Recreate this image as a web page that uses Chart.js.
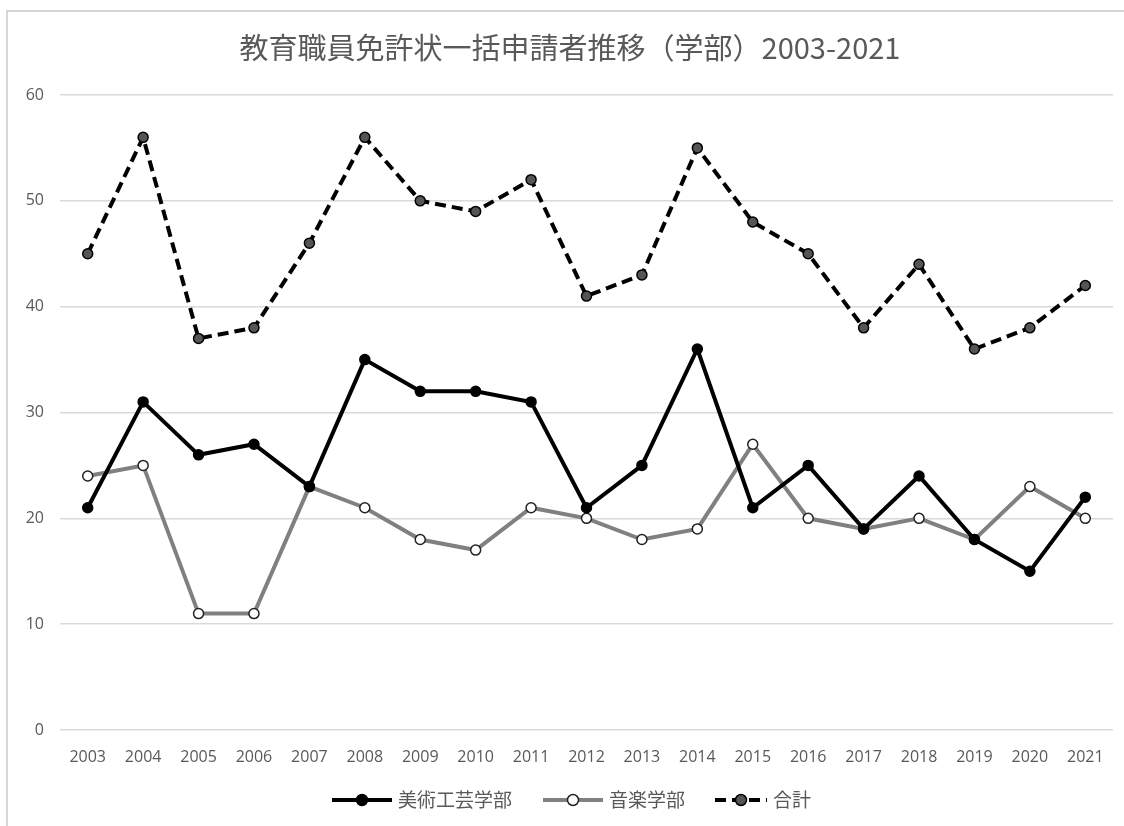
<!DOCTYPE html>
<html>
<head>
<meta charset="utf-8">
<script src="https://cdn.jsdelivr.net/npm/chart.js@4/dist/chart.umd.min.js"></script>
<style>
  html, body { margin: 0; padding: 0; background: #fff; }
  #wrap { position: relative; width: 1124px; height: 826px; overflow: hidden; }
  #frame { position: absolute; left: 6px; top: 10px; width: 1300px; height: 1000px;
           border-left: 2px solid #d6d6d6; border-top: 2px solid #d6d6d6; }
  #chart-area { position: absolute; left: 0; top: 0; }
</style>
</head>
<body>
<div id="wrap">
  <div id="frame"></div>
  <canvas id="chart-area" width="1124" height="826"></canvas>
</div>
<script>
const years = ['2003','2004','2005','2006','2007','2008','2009','2010','2011','2012',
               '2013','2014','2015','2016','2017','2018','2019','2020','2021'];
const bijutsu = [21, 31, 26, 27, 23, 35, 32, 32, 31, 21, 25, 36, 21, 25, 19, 24, 18, 15, 22];
const ongaku  = [24, 25, 11, 11, 23, 21, 18, 17, 21, 20, 18, 19, 27, 20, 19, 20, 18, 23, 20];
const goukei  = [45, 56, 37, 38, 46, 56, 50, 49, 52, 41, 43, 55, 48, 45, 38, 44, 36, 38, 42];
const seriesNames = ['美術工芸学部', '音楽学部', '合計'];
const chartTitle = '教育職員免許状一括申請者推移（学部）2003-2021';

const textGray = '#595959';
const cjkFont = '"Noto Sans CJK JP", "Noto Sans", sans-serif';
const numFont = '"Open Sans", sans-serif';

// title and legend are drawn by hand so the legend can show line + marker
const decorations = {
  id: 'decorations',
  afterDraw(chart) {
    const ctx = chart.ctx;
    ctx.save();
    ctx.fillStyle = textGray;
    ctx.font = '29px ' + cjkFont;
    ctx.textAlign = 'center';
    ctx.textBaseline = 'middle';
    ctx.fillText(chartTitle, 570, 48);

    const entries = [
      { x: 332, len: 60, ds: chart.data.datasets[0] },
      { x: 543, len: 60, ds: chart.data.datasets[1] },
      { x: 715, len: 52, ds: chart.data.datasets[2] }
    ];
    const y = 800;
    ctx.font = '19px ' + cjkFont;
    ctx.textAlign = 'left';
    entries.forEach(function(e) {
      const ds = e.ds;
      ctx.strokeStyle = ds.borderColor;
      ctx.lineWidth = ds.borderWidth;
      ctx.setLineDash(ds.borderDash || []);
      ctx.beginPath();
      ctx.moveTo(e.x, y);
      ctx.lineTo(e.x + e.len, y);
      ctx.stroke();
      ctx.setLineDash([]);
      ctx.beginPath();
      ctx.arc(e.x + e.len / 2, y, ds.pointRadius + 0.5, 0, Math.PI * 2);
      ctx.fillStyle = ds.pointBackgroundColor;
      ctx.fill();
      ctx.lineWidth = ds.pointBorderWidth;
      ctx.strokeStyle = ds.pointBorderColor;
      ctx.stroke();
      ctx.fillStyle = textGray;
      ctx.fillText(ds.label, e.x + e.len + 6, y);
    });
    ctx.restore();
  }
};

window.onload = function() {
  let ctx = document.getElementById('chart-area').getContext('2d');
  new Chart(ctx, {
    type: 'line',
    data: {
      labels: years,
      datasets: [{
        label: seriesNames[0],
        data: bijutsu,
        borderColor: '#000000',
        borderWidth: 4,
        pointRadius: 5,
        pointBackgroundColor: '#000000',
        pointBorderColor: '#000000',
        pointBorderWidth: 1.5
      }, {
        label: seriesNames[1],
        data: ongaku,
        borderColor: '#808080',
        borderWidth: 4,
        pointRadius: 5,
        pointBackgroundColor: '#ffffff',
        pointBorderColor: '#222222',
        pointBorderWidth: 1.5
      }, {
        label: seriesNames[2],
        data: goukei,
        borderColor: '#000000',
        borderWidth: 4,
        borderDash: [11, 6],
        pointRadius: 5,
        pointBackgroundColor: '#555555',
        pointBorderColor: '#000000',
        pointBorderWidth: 1.5
      }]
    },
    options: {
      responsive: false,
      animation: false,
      layout: { padding: { left: 10, right: 11, top: 95, bottom: 56 } },
      plugins: {
        legend: { display: false },
        title: { display: false },
        tooltip: { enabled: false }
      },
      scales: {
        x: {
          offset: true,
          grid: { display: false },
          border: { display: false },
          ticks: { color: textGray, font: { size: 16, family: numFont }, padding: 10, maxRotation: 0 },
          afterFit: function(scale) { scale.height = 40; }
        },
        y: {
          min: 0,
          max: 60,
          ticks: { stepSize: 10, color: textGray, font: { size: 16, family: numFont }, padding: 16 },
          grid: { color: '#d9d9d9', lineWidth: 1.5, drawTicks: false },
          border: { display: false },
          afterFit: function(scale) { scale.width = 50; }
        }
      }
    },
    plugins: [decorations]
  });
};
</script>
</body>
</html>
